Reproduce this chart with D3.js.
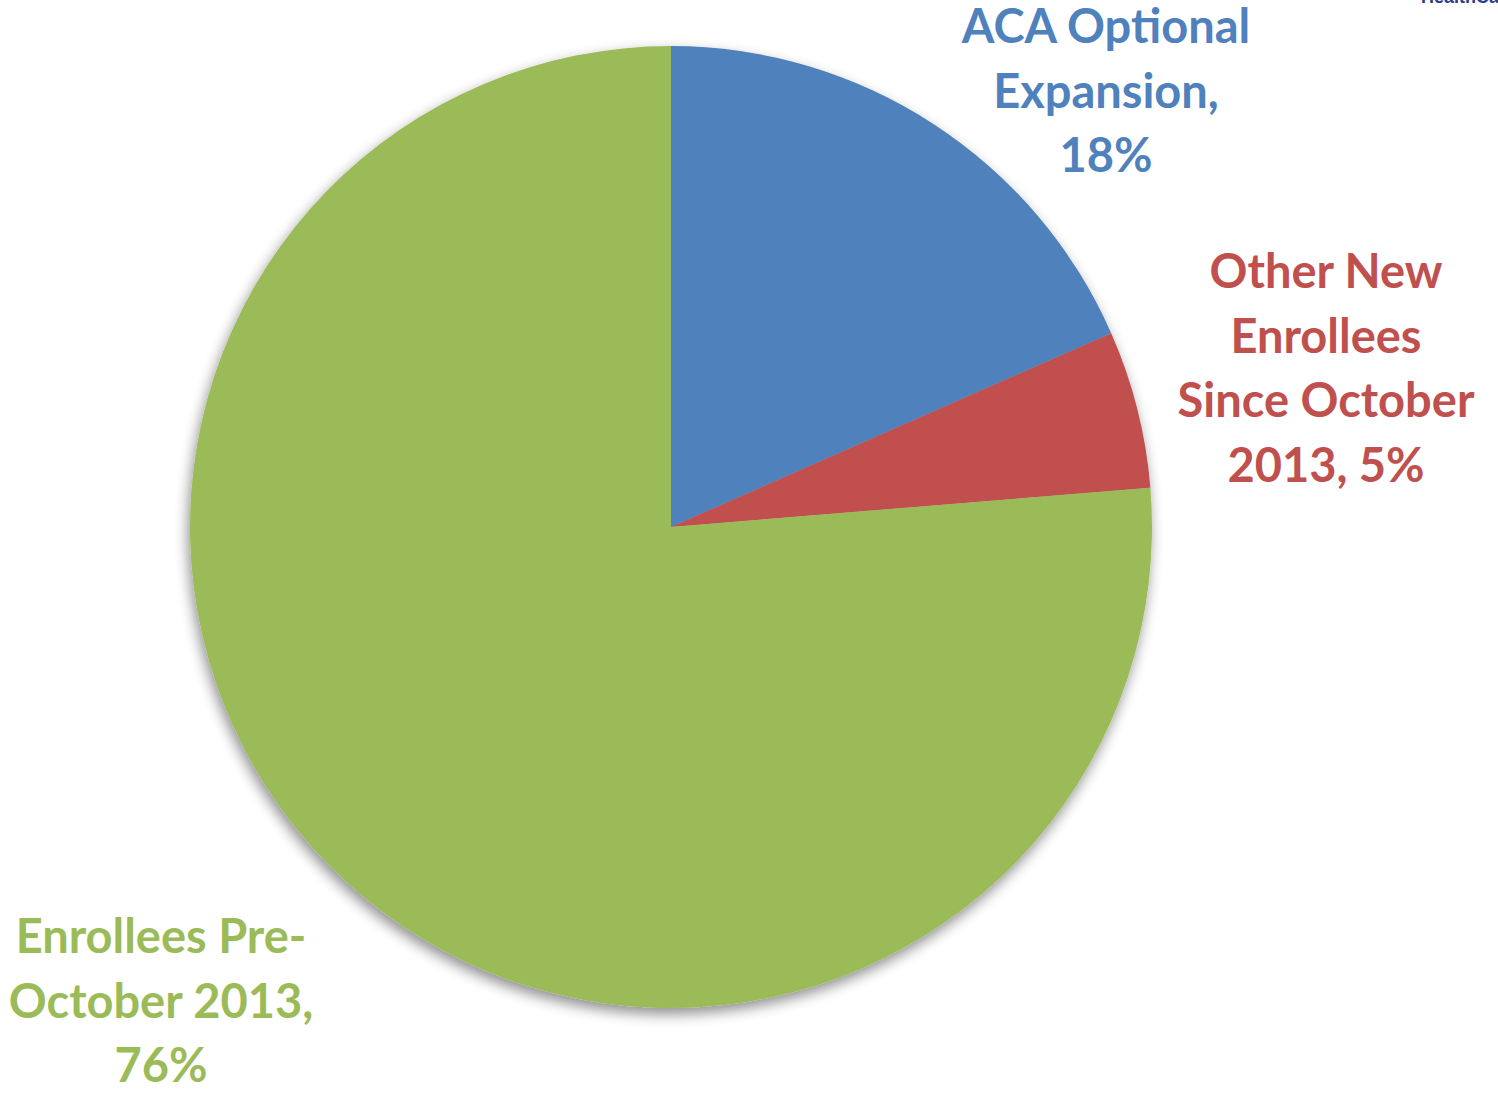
<!DOCTYPE html>
<html>
<head>
<meta charset="utf-8">
<script src="https://cdn.jsdelivr.net/npm/d3@7"></script>
<style>
  html, body { margin: 0; padding: 0; background: #fff; }
  svg { display: block; }
</style>
</head>
<body>
<script>
// ---- data ----
const categories = ["ACA Optional Expansion", "Other New Enrollees Since October 2013", "Enrollees Pre-October 2013"];
const values = [18.4, 5.3, 76.3];
const percentLabels = ["18%", "5%", "76%"];
const labelLines = [
  ["ACA Optional", "Expansion,", "18%"],
  ["Other New", "Enrollees", "Since October", "2013, 5%"],
  ["Enrollees Pre-", "October 2013,", "76%"]
];
const colors = ["#4F81BD", "#C0504D", "#9BBB59"];

// ---- layout ----
const W = 1498, H = 1095;
const cx = 671, cy = 527, R = 481;
const labelPos = [
  { x: 1106, y: 43 },
  { x: 1326, y: 288 },
  { x: 161, y: 953 }
];
const lineH = 64.5;

const svg = d3.select("body").append("svg").attr("width", W).attr("height", H);

const defs = svg.append("defs");
const f = defs.append("filter").attr("id", "shadow")
  .attr("x", "-10%").attr("y", "-10%").attr("width", "120%").attr("height", "120%");
f.append("feGaussianBlur").attr("in", "SourceAlpha").attr("stdDeviation", 7).attr("result", "blur");
f.append("feOffset").attr("in", "blur").attr("dx", -2).attr("dy", 6).attr("result", "off");
f.append("feComponentTransfer").attr("in", "off").attr("result", "sh")
  .append("feFuncA").attr("type", "linear").attr("slope", 0.45);
const m = f.append("feMerge");
m.append("feMergeNode").attr("in", "sh");
m.append("feMergeNode").attr("in", "SourceGraphic");

const pie = d3.pie().sort(null).value(d => d);
const arcs = pie(values);
const arc = d3.arc().innerRadius(0).outerRadius(R);

const g = svg.append("g").attr("transform", `translate(${cx},${cy})`).attr("filter", "url(#shadow)");
g.selectAll("path").data(arcs).join("path")
  .attr("d", arc)
  .attr("fill", (d, i) => colors[i]);

// labels
labelLines.forEach((lines, i) => {
  const t = svg.append("text")
    .attr("text-anchor", "middle")
    .attr("font-family", "Lato, 'Open Sans', sans-serif")
    .attr("font-weight", "bold")
    .attr("font-size", 47)
    .attr("fill", colors[i]);
  lines.forEach((ln, j) => {
    t.append("tspan").attr("x", labelPos[i].x).attr("y", labelPos[i].y + j * lineH).text(ln);
  });
});

// cropped logo text at top-right
svg.append("text")
  .attr("x", 1421).attr("y", 3)
  .attr("font-family", "Liberation Sans, Arial, sans-serif")
  .attr("font-weight", "bold")
  .attr("font-size", 18)
  .attr("fill", "#2B3A8C")
  .text("HealthCare");
</script>
</body>
</html>
